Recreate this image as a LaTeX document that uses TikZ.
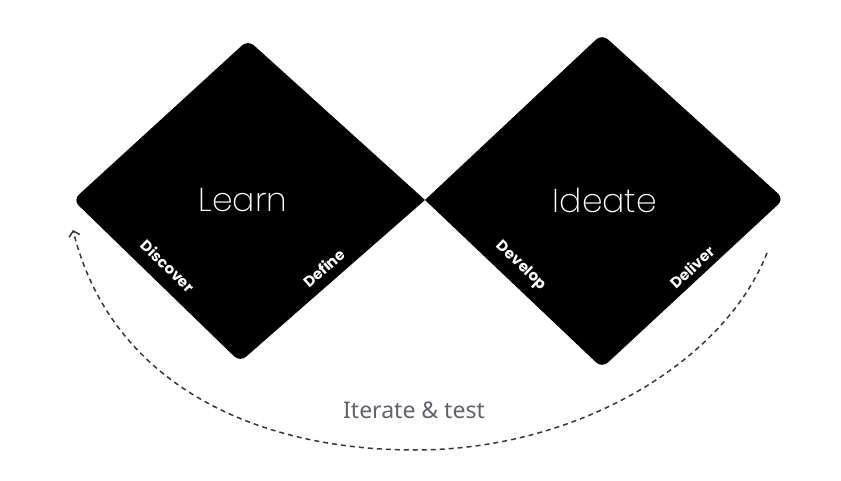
\documentclass[tikz,border=0pt]{standalone}
\usepackage{fontspec}
\setmainfont{Noto Sans}
\newfontfamily\lightfont{Poppins ExtraLight}
\newfontfamily\heavyfont{Poppins Bold}
\usetikzlibrary{arrows.meta, positioning}
\definecolor{loopgray}{RGB}{55,55,55}
\definecolor{textgray}{RGB}{95,99,110}

\begin{document}
\begin{tikzpicture}[x=1pt, y=-1pt, >={Straight Barb[length=5pt, width=11pt]},
    phase/.style={font=\lightfont\fontsize{33}{33}\selectfont, text=white},
    stage/.style={font=\heavyfont\fontsize{15}{15}\selectfont, text=white},
    loop/.style={loopgray, line width=1.5pt, dash pattern=on 5pt off 4pt}]
    \useasboundingbox (0,0) rectangle (841,481);
    % left diamond
    \coordinate (lw) at (73,200);
    \coordinate (ln) at (248,40);
    \coordinate (mid) at (425,200);
    \coordinate (ls) at (240,362);
    \fill (mid) [rounded corners=8pt] -- (ln) -- (lw) -- (ls) [sharp corners] -- cycle;
    % right diamond
    \coordinate (rn) at (602,34);
    \coordinate (re) at (784,199);
    \coordinate (rs) at (602,368);
    \fill (mid) [rounded corners=8pt] -- (rn) -- (re) -- (rs) [sharp corners] -- cycle;
    \node[phase] (learn) at (243,200) {Learn};
    \node[phase] (ideate) at (605,200) {Ideate};
    \node[stage, rotate=-44] (discover) at (168,266) {Discover};
    \node[stage, rotate=41] (define) at (324,268) {Define};
    \node[stage, rotate=-43.5] (develop) at (521,266) {Develop};
    \node[stage, rotate=43] (deliver) at (692,267) {Deliver};
    % loop back
    \coordinate (iterR) at (767,253);
    \coordinate (iterB) at (415,450);
    \coordinate (iterL) at (73,230);
    \draw[loop, ->] (iterR) .. controls (725,360) and (580,450) .. (iterB)
        .. controls (250,450) and (110,380) .. (iterL);
    \node[text=textgray, font=\fontsize{23}{23}\selectfont] (iterate) at (414,410) {Iterate \& test};
\end{tikzpicture}
\end{document}
